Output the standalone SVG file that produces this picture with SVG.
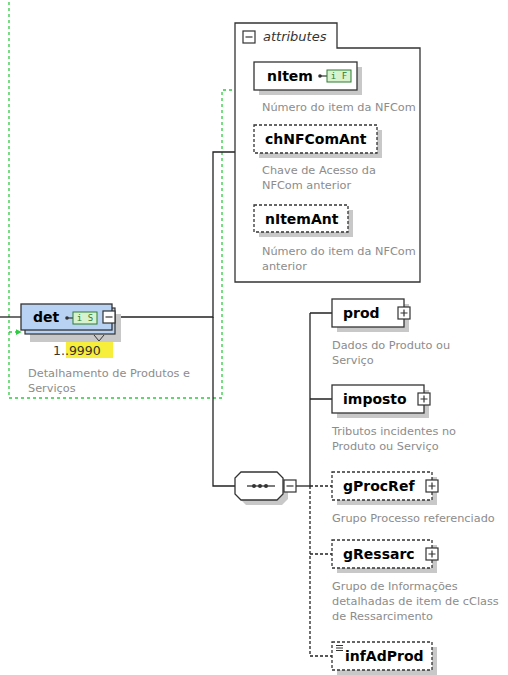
<svg xmlns="http://www.w3.org/2000/svg" xmlns:xlink="http://www.w3.org/1999/xlink" width="508" height="675" viewBox="0 0 508 675">
<style>
.t{font-family:"DejaVu Sans",sans-serif;font-weight:bold;font-size:14px;fill:#000}
.d{font-family:"DejaVu Sans",sans-serif;font-size:11.3px;fill:#8c8c8c}
.box{fill:#fff;stroke:#333;stroke-width:1.3}
.opt{stroke-dasharray:3 2}
.sh{fill:#c8c8c8}
.ln{stroke:#222;stroke-width:1.3;fill:none}
.dl{stroke-dasharray:3 2}
.g{stroke:#2ecc40;stroke-width:1.3;stroke-dasharray:3 3;fill:none}
.ic{fill:#d8f2d0;stroke:#2e7d32;stroke-width:1}
.ict{font-family:"DejaVu Sans Mono",monospace;font-size:9px;fill:#2e7d32}
</style>
<defs>
<g id="plus"><rect x="0" y="0" width="12" height="12" fill="#fff" stroke="#333" stroke-width="1.2"/><path d="M2.5 6H9.5M6 2.5V9.5" stroke="#333" stroke-width="1.2"/></g>
<g id="minus"><rect x="0" y="0" width="12" height="12" fill="#fff" stroke="#333" stroke-width="1.2"/><path d="M2.5 6H9.5" stroke="#333" stroke-width="1.2"/></g>
<marker id="ga" viewBox="0 0 8 8" refX="7" refY="4" markerWidth="6" markerHeight="6" orient="auto" markerUnits="userSpaceOnUse"><path d="M0 0L8 4L0 8Z" fill="#2ecc40"/></marker>
</defs>

<g id="connectors">
<path class="g" d="M9 2V398H222V90H253" marker-end="url(#ga)"/>
<path class="g" d="M9 332H21" marker-end="url(#ga)"/>
<path class="ln" d="M0 317H21"/>
<path class="ln" d="M115 317H213V152H235"/>
<path class="ln" d="M213 317V486H235"/>
<path class="ln" d="M296 486H310"/>
<path class="ln" d="M310 313V486"/>
<path class="ln" d="M310 313H332M310 399H332"/>
<path class="ln dl" d="M310 486V656M310 486H332M310 554H332M310 656H332"/>
</g>

<g id="det">
<rect class="sh" x="30" y="314" width="91" height="28"/>
<rect x="25" y="308" width="90" height="26" fill="#b7d2f2" stroke="#333" stroke-width="1.2"/>
<rect x="21" y="304" width="91" height="26" fill="#b7d2f2" stroke="#333" stroke-width="1.3"/>
<text class="t" x="33" y="322">det</text>
<circle cx="67" cy="318" r="1.8" fill="#333"/><path d="M67 318H73" stroke="#333" stroke-width="1.2"/>
<rect class="ic" x="73" y="312" width="24" height="12"/>
<text class="ict" x="85" y="321" text-anchor="middle">i S</text>
<use xlink:href="#minus" x="103" y="311"/>
<polyline points="94,335 99,341 104,335" fill="none" stroke="#333" stroke-width="1"/>
<rect x="66" y="342" width="47" height="16" fill="#f6ee3a"/>
<text x="53" y="355" font-family="DejaVu Sans,sans-serif" font-size="12.5" fill="#333">1..9990</text>
<text class="d" x="28" y="377">Detalhamento de Produtos e</text>
<text class="d" x="28" y="392">Serviços</text>
</g>

<g id="attributes">
<path d="M235 23H337V48H420V282H235Z" fill="#fff" stroke="#333" stroke-width="1.3"/>
<use xlink:href="#minus" x="243" y="31"/>
<text x="263" y="41" font-family="DejaVu Sans,sans-serif" font-style="italic" font-size="13" fill="#333">attributes</text>
</g>

<g id="nItem">
<rect class="sh" x="259" y="67" width="103" height="28"/>
<rect class="box" x="254" y="62" width="103" height="28"/>
<text class="t" x="267" y="81">nItem</text>
<circle cx="320" cy="76" r="1.8" fill="#333"/><path d="M320 76H327" stroke="#333" stroke-width="1.2"/>
<rect class="ic" x="327" y="70" width="24" height="12"/>
<text class="ict" x="339" y="79" text-anchor="middle">i F</text>
<text class="d" x="262" y="111">Número do item da NFCom</text>
</g>

<g id="chNFComAnt">
<rect class="sh" x="259" y="130" width="123" height="28"/>
<rect class="box opt" x="254" y="125" width="123" height="28"/>
<text class="t" x="265" y="144">chNFComAnt</text>
<text class="d" x="262" y="174">Chave de Acesso da</text>
<text class="d" x="262" y="189">NFCom anterior</text>
</g>

<g id="nItemAnt">
<rect class="sh" x="259" y="210" width="94" height="27"/>
<rect class="box opt" x="254" y="205" width="94" height="27"/>
<text class="t" x="265" y="224">nItemAnt</text>
<text class="d" x="262" y="255">Número do item da NFCom</text>
<text class="d" x="262" y="270">anterior</text>
</g>

<g id="sequence">
<polygon class="sh" points="246,477 282,477 288,483 288,499 282,505 246,505 240,499 240,483"/>
<polygon points="241,472 277,472 283,478 283,494 277,500 241,500 235,494 235,478" fill="#fff" stroke="#333" stroke-width="1.3"/>
<path d="M247 486H275" stroke="#333" stroke-width="1.3"/>
<circle cx="254" cy="486" r="2" fill="#333"/><circle cx="260" cy="486" r="2" fill="#333"/><circle cx="266" cy="486" r="2" fill="#333"/>
<use xlink:href="#minus" x="284" y="480"/>
</g>

<g id="prod">
<rect class="sh" x="337" y="304" width="72" height="28"/>
<rect class="box" x="332" y="299" width="72" height="28"/>
<text class="t" x="343" y="318">prod</text>
<use xlink:href="#plus" x="398" y="307"/>
<text class="d" x="332" y="349">Dados do Produto ou</text>
<text class="d" x="332" y="364">Serviço</text>
</g>

<g id="imposto">
<rect class="sh" x="337" y="390" width="92" height="28"/>
<rect class="box" x="332" y="385" width="92" height="28"/>
<text class="t" x="343" y="404">imposto</text>
<use xlink:href="#plus" x="418" y="393"/>
<text class="d" x="332" y="435">Tributos incidentes no</text>
<text class="d" x="332" y="450">Produto ou Serviço</text>
</g>

<g id="gProcRef">
<rect class="sh" x="337" y="477" width="100" height="28"/>
<rect class="box opt" x="332" y="472" width="100" height="28"/>
<text class="t" x="343" y="491">gProcRef</text>
<use xlink:href="#plus" x="426" y="480"/>
<text class="d" x="332" y="522">Grupo Processo referenciado</text>
</g>

<g id="gRessarc">
<rect class="sh" x="337" y="545" width="100" height="28"/>
<rect class="box opt" x="332" y="540" width="100" height="28"/>
<text class="t" x="343" y="559">gRessarc</text>
<use xlink:href="#plus" x="426" y="548"/>
<text class="d" x="332" y="590">Grupo de Informações</text>
<text class="d" x="332" y="605">detalhadas de item de cClass</text>
<text class="d" x="332" y="620">de Ressarcimento</text>
</g>

<g id="infAdProd">
<rect class="sh" x="337" y="647" width="100" height="28"/>
<rect class="box opt" x="332" y="642" width="100" height="28"/>
<path d="M336 645.5H343M336 648H343M336 650.5H343" stroke="#333" stroke-width="1"/>
<text class="t" x="345" y="661">infAdProd</text>
</g>
</svg>
